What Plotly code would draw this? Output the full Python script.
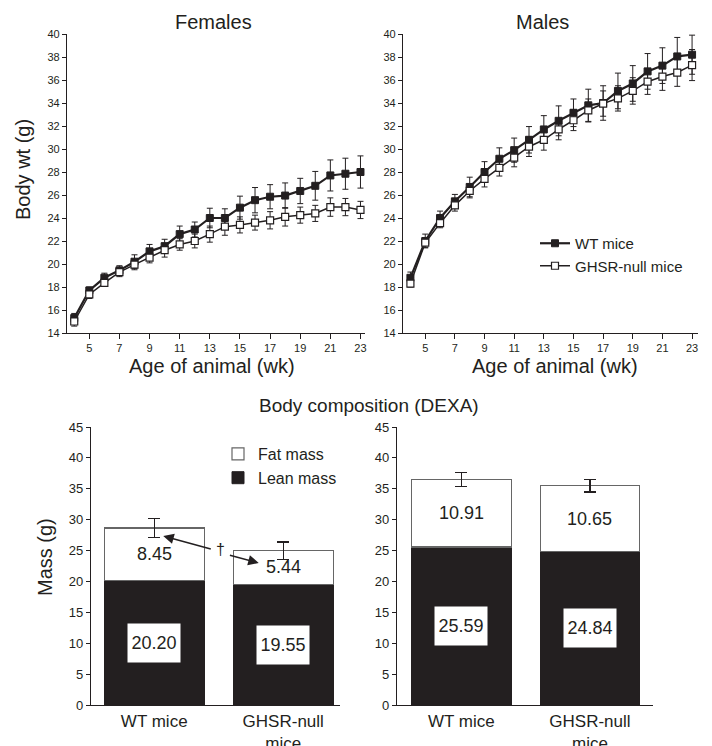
import plotly.graph_objects as go

weeks = list(range(4, 24))
tick_weeks = list(range(5, 24, 2))

fem_wt = [15.3, 17.7, 18.8, 19.45, 20.2, 21.1, 21.55, 22.6, 23.0, 24.0,
          24.0, 24.9, 25.55, 25.85, 25.95, 26.35, 26.8, 27.7, 27.85, 28.0]
fem_wt_err = [0.4, 0.3, 0.4, 0.4, 0.6, 0.6, 0.6, 0.7, 0.65, 0.85,
              0.8, 1.0, 1.1, 1.05, 1.1, 1.1, 1.25, 1.35, 1.35, 1.4]
fem_null = [15.0, 17.35, 18.35, 19.3, 19.95, 20.55, 21.2, 21.7, 22.0, 22.6,
            23.25, 23.4, 23.6, 23.8, 24.1, 24.25, 24.4, 24.95, 24.95, 24.7]
fem_null_err = [0.4, 0.35, 0.3, 0.4, 0.45, 0.45, 0.6, 0.5, 0.6, 0.7,
                0.75, 0.7, 0.65, 0.75, 0.8, 0.7, 0.7, 0.8, 0.75, 0.75]

male_wt = [18.8, 22.0, 24.0, 25.45, 26.7, 28.0, 29.15, 29.9, 30.8, 31.7,
           32.45, 33.15, 33.8, 34.0, 35.05, 35.7, 36.75, 37.25, 38.05, 38.2]
male_wt_err = [0.5, 0.6, 0.6, 0.6, 0.85, 0.9, 0.95, 1.05, 1.15, 1.2,
               1.3, 1.2, 1.4, 1.5, 1.55, 1.55, 1.55, 1.55, 1.65, 1.7]
male_null = [18.3, 21.85, 23.55, 25.1, 26.35, 27.4, 28.35, 29.25, 30.2, 30.8,
             31.7, 32.5, 33.35, 33.95, 34.4, 35.05, 35.85, 36.3, 36.65, 37.3]
male_null_err = [0.3, 0.4, 0.4, 0.5, 0.6, 0.7, 0.7, 0.8, 0.85, 0.9,
                 0.9, 0.9, 1.0, 1.1, 1.1, 1.15, 1.1, 1.2, 1.2, 1.35]

groups = ["WT mice", "GHSR-null<br>mice"]
fem_lean = [20.20, 19.55]
fem_lean_err = [0.3, 0.45]
fem_fat = [8.45, 5.44]
fem_fat_err = [1.5, 1.4]
male_lean = [25.59, 24.84]
male_lean_err = [0.45, 0.45]
male_fat = [10.91, 10.65]
male_fat_err = [1.1, 1.0]

FONT = "Liberation Sans, Arial, sans-serif"
NARROW = "Liberation Sans Narrow, Liberation Sans, Arial, sans-serif"
INK = "#231f20"
W, H = 712, 746


def px_x(p):
    return p / W


def px_y(p):
    return 1 - p / H


fig = go.Figure()


def line_pair(wt, wt_err, nl, nl_err, xa, ya, show):
    fig.add_trace(go.Scatter(
        x=weeks, y=wt, mode="lines+markers", name="WT mice",
        line=dict(color=INK, width=2.2),
        marker=dict(symbol="square", size=7, color=INK, line=dict(color=INK, width=1)),
        error_y=dict(type="data", array=wt_err, color=INK, thickness=1, width=3),
        xaxis=xa, yaxis=ya, showlegend=show, legend="legend"))
    fig.add_trace(go.Scatter(
        x=weeks, y=nl, mode="lines+markers", name="GHSR-null mice",
        line=dict(color=INK, width=1.5),
        marker=dict(symbol="square", size=7, color="white", line=dict(color=INK, width=1.2)),
        error_y=dict(type="data", array=nl_err, color=INK, thickness=1, width=3),
        xaxis=xa, yaxis=ya, showlegend=show, legend="legend"))


line_pair(fem_wt, fem_wt_err, fem_null, fem_null_err, "x", "y", False)
line_pair(male_wt, male_wt_err, male_null, male_null_err, "x2", "y2", True)


def bar_pair(lean, lean_err, fat, fat_err, xa, ya, show):
    fig.add_trace(go.Bar(
        x=groups, y=lean, name="Lean mass", width=0.775,
        marker=dict(color=INK, line=dict(color=INK, width=1)),
        error_y=dict(type="data", array=lean_err, color=INK, thickness=1.2, width=6),
        xaxis=xa, yaxis=ya, showlegend=show, legend="legend2"))
    fig.add_trace(go.Bar(
        x=groups, y=fat, name="Fat mass", width=0.775,
        marker=dict(color="white", line=dict(color="#666666", width=1.2)),
        error_y=dict(type="data", array=fat_err, color=INK, thickness=1.2, width=6),
        xaxis=xa, yaxis=ya, showlegend=show, legend="legend2"))
    for g, l, f in zip(groups, lean, fat):
        fig.add_annotation(x=g, y=l / 2, text=f"{l:.2f}", showarrow=False,
                           xref=xa, yref=ya, bgcolor="white", width=50, height=36,
                           font=dict(size=18, color=INK, family=FONT))
        fig.add_annotation(x=g, y=l + f / 2, text=f"{f:.2f}", showarrow=False,
                           xref=xa, yref=ya,
                           font=dict(size=18, color=INK, family=FONT))


bar_pair(fem_lean, fem_lean_err, fem_fat, fem_fat_err, "x3", "y3", True)
bar_pair(male_lean, male_lean_err, male_fat, male_fat_err, "x4", "y4", False)

line_axis = dict(showline=True, linecolor=INK, linewidth=1.2, ticks="outside",
                 ticklen=4, tickwidth=1, tickcolor=INK, showgrid=False, zeroline=False,
                 automargin=False, tickfont=dict(size=11, color=INK, family=NARROW))

top_dom = [px_y(333), px_y(34)]
bot_dom = [px_y(705), px_y(427)]

fig.update_layout(
    width=W, height=H, margin=dict(l=0, r=0, t=0, b=0),
    paper_bgcolor="white", plot_bgcolor="white", barmode="stack",
    font=dict(family=FONT, color=INK),
    xaxis=dict(line_axis, domain=[px_x(67), px_x(365)], range=[3.52, 23.3],
               tickvals=tick_weeks, ticklen=5, anchor="y"),
    yaxis=dict(line_axis, domain=top_dom, range=[14, 40], dtick=2, anchor="x"),
    xaxis2=dict(line_axis, domain=[px_x(403), px_x(698)], range=[3.5, 23.4],
                tickvals=tick_weeks, ticklen=5, anchor="y2"),
    yaxis2=dict(line_axis, domain=top_dom, range=[14, 40], dtick=2, anchor="x2"),
    xaxis3=dict(line_axis, domain=[px_x(91), px_x(340)], range=[-0.49, 1.44],
                type="category", ticks="", anchor="y3",
                tickfont=dict(size=17, color=INK, family=FONT)),
    yaxis3=dict(line_axis, domain=bot_dom, range=[0, 45], dtick=5, anchor="x3",
                tickfont=dict(size=13, color=INK, family=FONT)),
    xaxis4=dict(line_axis, domain=[px_x(397), px_x(653)], range=[-0.5, 1.49],
                type="category", ticks="", anchor="y4",
                tickfont=dict(size=17, color=INK, family=FONT)),
    yaxis4=dict(line_axis, domain=bot_dom, range=[0, 45], dtick=5, anchor="x4",
                tickfont=dict(size=13, color=INK, family=FONT)),
    legend=dict(x=px_x(535), y=px_y(227), xanchor="left", yanchor="top",
                font=dict(size=15, color=INK, family=FONT), bgcolor="rgba(0,0,0,0)",
                itemwidth=30, tracegroupgap=0, traceorder="normal"),
    legend2=dict(x=px_x(218), y=px_y(437), xanchor="left", yanchor="top",
                 font=dict(size=16, color=INK, family=FONT), bgcolor="rgba(0,0,0,0)",
                 traceorder="reversed", itemwidth=30, tracegroupgap=0),
)

titles = [
    ("Females", px_x(213), px_y(22), 0, 20),
    ("Males", px_x(542), px_y(22), 0, 20),
    ("Age of animal (wk)", px_x(212), px_y(366), 0, 20),
    ("Age of animal (wk)", px_x(555), px_y(366), 0, 20),
    ("Body composition (DEXA)", px_x(369), px_y(405), 0, 19),
    ("Body wt (g)", px_x(23), px_y(170), -90, 20),
    ("Mass (g)", px_x(45), px_y(557), -90, 20),
]
for t, x, y, ang, sz in titles:
    fig.add_annotation(x=x, y=y, xref="paper", yref="paper", text=t, showarrow=False,
                       textangle=ang, xanchor="center", yanchor="middle",
                       font=dict(size=sz, color=INK, family=FONT))

fig.add_annotation(x=0.51, y=25.2, xref="x3", yref="y3", text="†", showarrow=False,
                   font=dict(size=16, color=INK, family=FONT))
fig.add_annotation(x=0.07, y=27.35, ax=0.45, ay=25.2, xref="x3", yref="y3",
                   axref="x3", ayref="y3", text="", showarrow=True, arrowhead=2,
                   arrowsize=1.4, arrowwidth=1.5, arrowcolor=INK)
fig.add_annotation(x=0.81, y=23.0, ax=0.575, ay=24.3, xref="x3", yref="y3",
                   axref="x3", ayref="y3", text="", showarrow=True, arrowhead=2,
                   arrowsize=1.4, arrowwidth=1.5, arrowcolor=INK)

fig.write_html("out.html", config={"displayModeBar": False},
               post_script="document.body.style.margin='0';document.body.style.overflow='hidden';")
